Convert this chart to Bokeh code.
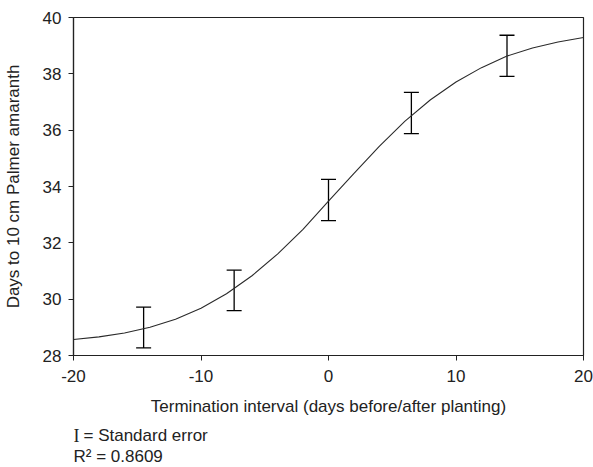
from bokeh.plotting import figure
from bokeh.layouts import column
from bokeh.models import ColumnDataSource, Whisker, TeeHead, FixedTicker, Range1d
from bokeh.core.properties import value
from bokeh.embed import file_html
from bokeh.resources import INLINE

# Observed means with standard error bars
obs_x = [-14.5, -7.4, 0.0, 6.5, 14.0]
obs_upper = [29.72, 31.03, 34.25, 37.34, 39.37]
obs_lower = [28.27, 29.59, 32.79, 35.88, 37.91]

# Fitted sigmoid curve
curve_x = [-20, -18, -16, -14, -12, -10, -8, -6, -4, -2, 0, 2, 4, 6, 8, 10, 12, 14, 16, 18, 20]
curve_y = [28.57, 28.66, 28.80, 29.00, 29.29, 29.68, 30.19, 30.83, 31.60, 32.48, 33.48,
           34.47, 35.43, 36.32, 37.08, 37.71, 38.22, 38.63, 38.92, 39.13, 39.29]

x_ticks = [-20, -10, 0, 10, 20]
x_tick_labels = ["-20", "-10", "0", "10", "20"]
y_ticks = [28, 30, 32, 34, 36, 38, 40]

note_se = "= Standard error"
note_r2 = "R² = 0.8609"

FONT = "Liberation Sans"
TXT = "#222222"
FS = "17px"

p = figure(width=593, height=424, output_backend="svg", toolbar_location=None,
           x_range=Range1d(-20, 20), y_range=Range1d(28, 40),
           min_border_left=72, min_border_right=10, min_border_top=17, min_border_bottom=69)

p.grid.visible = False
p.outline_line_color = "#222222"
p.outline_line_width = 1.2
p.background_fill_color = "white"
p.border_fill_color = "white"

p.line(curve_x, curve_y, line_color="#2a2a2a", line_width=1.1)

src = ColumnDataSource(dict(x=obs_x, upper=obs_upper, lower=obs_lower))
w = Whisker(base="x", upper="upper", lower="lower", source=src,
            line_color="black", line_width=1.3,
            upper_head=TeeHead(size=15, line_color="black", line_width=1.3),
            lower_head=TeeHead(size=15, line_color="black", line_width=1.3))
p.add_layout(w)

for ax in (p.xaxis[0], p.yaxis[0]):
    ax.axis_line_color = "#222222"
    ax.axis_line_width = 1.2
    ax.major_tick_line_color = "#222222"
    ax.major_tick_in = 0
    ax.major_tick_out = 5
    ax.minor_tick_line_color = None
    ax.major_label_text_font = FONT
    ax.major_label_text_font_size = FS
    ax.major_label_text_color = TXT
    ax.axis_label_text_font = FONT
    ax.axis_label_text_font_size = FS
    ax.axis_label_text_font_style = "normal"
    ax.axis_label_text_color = TXT

p.xaxis[0].ticker = FixedTicker(ticks=x_ticks)
p.xaxis[0].major_label_overrides = {t: s for t, s in zip(x_ticks, x_tick_labels)}
p.yaxis[0].ticker = FixedTicker(ticks=y_ticks)
p.xaxis[0].axis_label = "Termination interval (days before/after planting)"
p.yaxis[0].axis_label = "Days to 10 cm Palmer amaranth"
p.xaxis[0].major_label_standoff = 9
p.xaxis[0].axis_label_standoff = 12
p.yaxis[0].major_label_standoff = 7
p.yaxis[0].axis_label_standoff = 17

# Notes strip below the chart; same side borders as the chart so the frames align.
# Ranges are in page pixels (y flipped, top = 424).
notes = figure(width=593, height=43, output_backend="svg", toolbar_location=None,
               x_range=Range1d(72, 583), y_range=Range1d(467, 424),
               x_axis_location=None, y_axis_location=None,
               min_border_left=72, min_border_right=10,
               min_border_top=0, min_border_bottom=0)
notes.grid.visible = False
notes.outline_line_color = None
notes.border_fill_color = "white"
notes.background_fill_color = "white"

notes.text(x=[72], y=[435.5], text=["I"], text_font=value("Liberation Serif"),
           text_font_size="18px", text_color=TXT, text_baseline="alphabetic", text_align="left")
notes.text(x=[82], y=[435], text=[note_se], text_font=value(FONT),
           text_font_size=FS, text_color=TXT, text_baseline="alphabetic", text_align="left")
notes.text(x=[72], y=[456], text=[note_r2], text_font=value(FONT),
           text_font_size=FS, text_color=TXT, text_baseline="alphabetic", text_align="left")

layout = column(p, notes, spacing=0)
open("out.html", "w").write(file_html(layout, INLINE))
